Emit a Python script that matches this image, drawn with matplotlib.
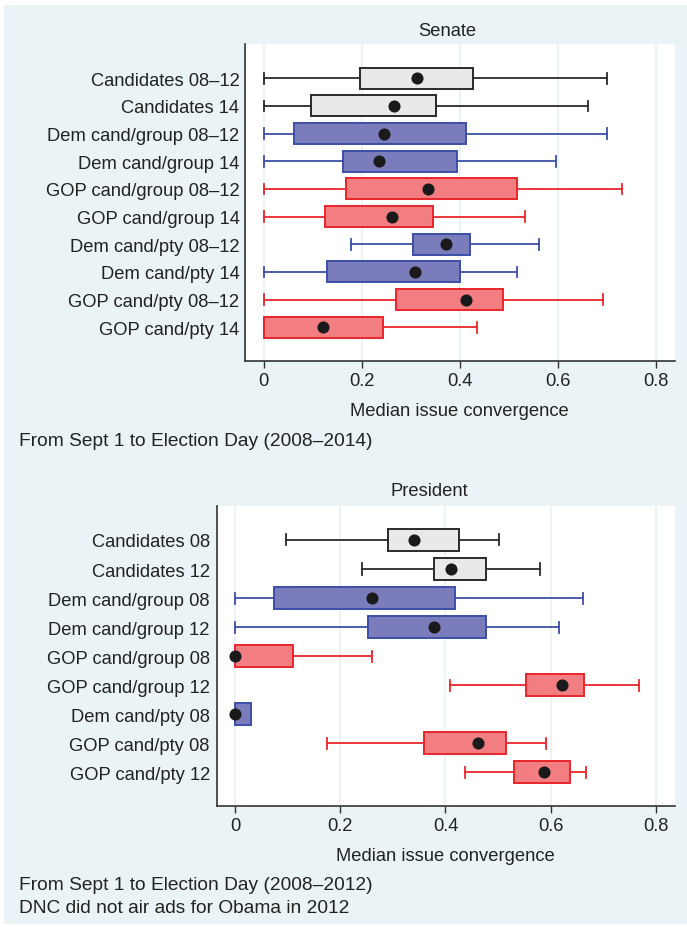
import matplotlib
matplotlib.use("Agg")
import matplotlib.pyplot as plt
from matplotlib.patches import Rectangle

plt.rcParams['font.family'] = ['Liberation Sans', 'DejaVu Sans']

# Senate: whisker ends, box edges and median dot for each group
sen_labels = ["Candidates 08–12", "Candidates 14", "Dem cand/group 08–12",
              "Dem cand/group 14", "GOP cand/group 08–12", "GOP cand/group 14",
              "Dem cand/pty 08–12", "Dem cand/pty 14", "GOP cand/pty 08–12",
              "GOP cand/pty 14"]
sen_party = ["all", "all", "dem", "dem", "gop", "gop", "dem", "dem", "gop", "gop"]
sen_lo  = [0.0, 0.0, 0.0, 0.0, 0.0, 0.0, 0.178, 0.0, 0.0, 0.0]
sen_q1  = [0.197, 0.096, 0.063, 0.162, 0.169, 0.126, 0.304, 0.129, 0.271, 0.0]
sen_med = [0.313, 0.267, 0.246, 0.235, 0.336, 0.261, 0.372, 0.308, 0.414, 0.122]
sen_q3  = [0.427, 0.351, 0.413, 0.395, 0.518, 0.345, 0.421, 0.401, 0.488, 0.244]
sen_hi  = [0.700, 0.663, 0.700, 0.597, 0.732, 0.533, 0.562, 0.517, 0.693, 0.435]

# President
pres_labels = ["Candidates 08", "Candidates 12", "Dem cand/group 08",
               "Dem cand/group 12", "GOP cand/group 08", "GOP cand/group 12",
               "Dem cand/pty 08", "GOP cand/pty 08", "GOP cand/pty 12"]
pres_party = ["all", "all", "dem", "dem", "gop", "gop", "dem", "gop", "gop"]
pres_lo  = [0.097, 0.241, 0.0, 0.0, 0.0, 0.409, 0.0, 0.174, 0.437]
pres_q1  = [0.290, 0.378, 0.074, 0.253, 0.0, 0.553, 0.0, 0.359, 0.530]
pres_med = [0.341, 0.411, 0.260, 0.378, 0.0, 0.621, 0.0, 0.461, 0.587]
pres_q3  = [0.426, 0.478, 0.418, 0.478, 0.110, 0.664, 0.030, 0.515, 0.638]
pres_hi  = [0.502, 0.580, 0.662, 0.617, 0.260, 0.768, 0.030, 0.592, 0.667]

xticks = [0, 0.2, 0.4, 0.6, 0.8]
xtick_labels = ["0", "0.2", "0.4", "0.6", "0.8"]

fill = {"all": "#e8e9ea", "dem": "#7a7cbc", "gop": "#f27e81"}
edge = {"all": "#2a2a2a", "dem": "#3b4fa6", "gop": "#e8262c"}

W, H = 687, 928
BG = "#eaf3f5"
FS = 13.2
FS_NOTE = 13.8

fig = plt.figure(figsize=(W / 100, H / 100), dpi=100)
fig.patch.set_facecolor("white")
fig.patches.append(Rectangle((4 / W, 1 - 925 / H), 1 - 4 / W, 919 / H,
                             transform=fig.transFigure, facecolor=BG,
                             edgecolor="none", zorder=-10))


def px(x, y):
    return x / W, 1 - y / H


def panel(rect, labels, party, lo, q1, med, q3, hi, xlim, ylim, ypad):
    ax = fig.add_axes(rect)
    ax.set_facecolor("white")
    pos = list(range(1, len(labels) + 1))
    for i, p in enumerate(pos):
        st = [{"whislo": lo[i], "q1": q1[i], "med": med[i], "q3": q3[i],
               "whishi": hi[i], "fliers": []}]
        c = edge[party[i]]
        ax.bxp(st, positions=[p], widths=0.76, vert=False, patch_artist=True,
               showfliers=False,
               boxprops=dict(facecolor=fill[party[i]], edgecolor=c, linewidth=1.4),
               whiskerprops=dict(color=c, linewidth=1.3),
               capprops=dict(color=c, linewidth=1.3),
               medianprops=dict(linewidth=0))
    ax.scatter(med, pos, s=76, color="#1a1a1a", zorder=5, linewidths=0)
    ax.set_xlim(*xlim)
    ax.set_ylim(*ylim)
    ax.set_yticks(pos)
    ax.set_yticklabels(labels, fontsize=FS, color="#222222")
    ax.tick_params(axis="y", length=0, pad=ypad)
    ax.set_xticks(xticks)
    ax.set_xticklabels(xtick_labels, fontsize=FS, color="#222222")
    ax.tick_params(axis="x", length=5, width=1, color="#333333", pad=3)
    ax.grid(axis="x", color="#e9f1f4", linewidth=1.2)
    ax.set_axisbelow(True)
    for s in ("top", "right"):
        ax.spines[s].set_visible(False)
    for s in ("left", "bottom"):
        ax.spines[s].set_color("#333333")
        ax.spines[s].set_linewidth(1.2)
    return ax


# Senate panel
panel([245 / W, 1 - 362 / H, 430 / W, 317 / H], sen_labels, sen_party,
      sen_lo, sen_q1, sen_med, sen_q3, sen_hi,
      (-0.038, 0.8396), (11.22, -0.24), 4)
fig.text(*px(447, 32), "Senate", fontsize=FS, ha="center", va="center", color="#222222")
fig.text(*px(459, 411), "Median issue convergence", fontsize=FS, ha="center",
         va="center", color="#222222")
fig.text(*px(19, 442), "From Sept 1 to Election Day (2008–2014)", fontsize=FS_NOTE,
         ha="left", va="center", color="#222222")

# President panel
panel([216.7 / W, 1 - 807.3 / H, 458.3 / W, 300.6 / H], pres_labels, pres_party,
      pres_lo, pres_q1, pres_med, pres_q3, pres_hi,
      (-0.0354, 0.8369), (10.17, -0.18), 5)
fig.text(*px(429, 492), "President", fontsize=FS, ha="center", va="center", color="#222222")
fig.text(*px(445, 857), "Median issue convergence", fontsize=FS, ha="center",
         va="center", color="#222222")
fig.text(*px(19, 886), "From Sept 1 to Election Day (2008–2012)", fontsize=FS_NOTE,
         ha="left", va="center", color="#222222")
fig.text(*px(19, 909), "DNC did not air ads for Obama in 2012", fontsize=FS_NOTE,
         ha="left", va="center", color="#222222")

fig.savefig("out.png", dpi=100, facecolor=fig.get_facecolor())
